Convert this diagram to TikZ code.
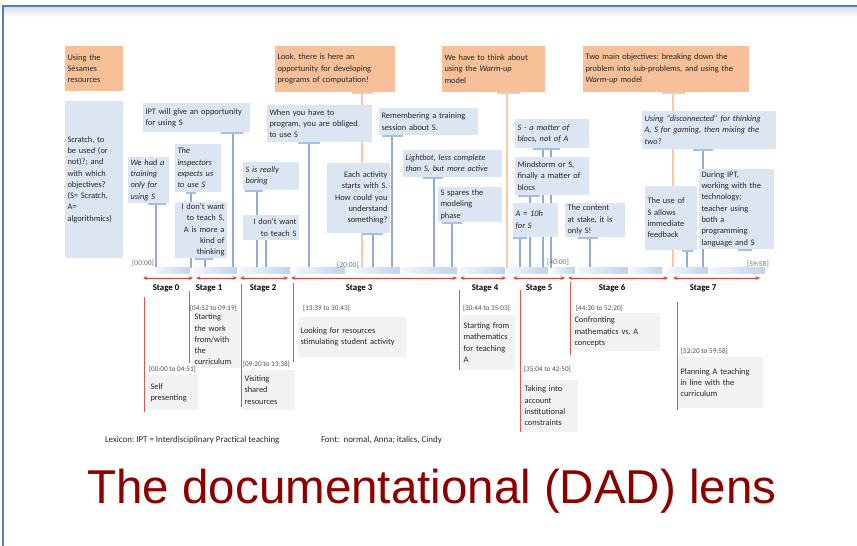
\documentclass[tikz,border=0pt]{standalone}
\usepackage{fontspec}
\setmainfont{Carlito}
\newfontfamily\titlefont{Liberation Sans}
\usetikzlibrary{arrows.meta,backgrounds}
\frenchspacing

\definecolor{frameblue}{RGB}{79,129,189}
\definecolor{calloutfill}{RGB}{220,230,242}
\definecolor{orangefill}{RGB}{248,192,152}
\definecolor{orangeline}{RGB}{250,200,165}
\definecolor{linkblue}{RGB}{145,172,214}
\definecolor{tickblue}{RGB}{165,192,228}
\definecolor{barblue}{RGB}{192,210,237}
\definecolor{stagered}{RGB}{214,58,52}
\definecolor{descgrey}{RGB}{242,242,242}
\definecolor{titlered}{RGB}{140,0,0}

\begin{document}
\begin{tikzpicture}[x=1pt,y=-1pt,
  every node/.style={inner sep=0pt, outer sep=0pt, text=black!85},
  boxtext/.style={anchor=north west, inner xsep=2.5pt, inner ysep=0pt,
    align=left, font=\fontsize{8.4}{11.3}\selectfont},
  callout/.style={boxtext, fill=calloutfill},
  remark/.style={boxtext, fill=orangefill},
  stagedesc/.style={boxtext, fill=descgrey},
  timelab/.style={anchor=west, font=\fontsize{7.2}{8}\selectfont, text=black!70},
  clocklab/.style={font=\fontsize{7.5}{8}\selectfont, text=black!55},
  stagelab/.style={font=\bfseries\fontsize{8.8}{10}\selectfont, text=black},
  legendtext/.style={anchor=west, font=\fontsize{8.9}{10}\selectfont, text=black!85},
  link/.style={draw=linkblue, line width=1.3pt},
  olink/.style={draw=orangeline, line width=1.5pt},
  tickbar/.style={draw=tickblue, line width=2pt},
  stagearrow/.style={draw=stagered, line width=0.9pt,
    {Stealth[length=4.5pt,width=3.6pt]}-{Stealth[length=4.5pt,width=3.6pt]}},
  stageline/.style={draw=stagered!85, line width=0.9pt}]

\useasboundingbox (0,0) rectangle (857,546);

% slide frame
\shade[top color=black!13, bottom color=white] (4,7.2) rectangle (857,17);
\draw[frameblue, line width=2.2pt] (3,546) -- (3,6) -- (857,6);

% timeline band
\foreach \a/\b in {155/190,193/237,240/290,296/345,355/400,402/457,460/505,
                   508/548,552/575,578/628,630/662,668/708,710/765}
  \shade[left color=barblue!20, right color=barblue] (\a,267) rectangle (\b,273);

% clock marks on the timeline
\node[clocklab, anchor=east] (k00) at (154,263) {[00:00]};
\node[clocklab, anchor=west] (k20) at (337,265) {[20:00]};
\node[clocklab, anchor=west] (k40) at (547,262) {[40:00]};
\node[clocklab, anchor=west] (k60) at (747,264) {[59:58]};

% orange remarks
\node[remark, minimum width=58pt, minimum height=45pt, text width=53pt] (o1) at (65,46)
  {Using the\\Sésames\\resources};
\node[remark, minimum width=120pt, minimum height=46pt, text width=115pt] (o2) at (275,46)
  {Look, there is here an\\opportunity for developing\\programs of computation!};
\node[remark, minimum width=103pt, minimum height=46pt, text width=98pt] (o3) at (442,46)
  {We have to think about\\using the \textit{Warm-up}\\model};
\node[remark, minimum width=166pt, minimum height=46pt, text width=161pt] (o4) at (583,46)
  {Two main objectives: breaking down the\\problem into sub-problems, and using the\\\textit{Warm-up} model};

% blue callouts
\node[callout, minimum width=58pt, minimum height=157pt, text width=53pt] (cscratch) at (65,101)
  {Scratch, to\\be used (or\\not)?; and\\with which\\objectives?\\(S= Scratch,\\A=\\algorithmics)};
\node[callout, minimum width=107pt, minimum height=29pt, text width=102pt] (cipt) at (143,103)
  {IPT will give an opportunity\\for using S};
\node[callout, minimum width=41pt, minimum height=46pt, text width=36pt, font=\itshape\fontsize{8.4}{11.3}\selectfont] (ctrain) at (128,157)
  {We had a\\training\\only for\\using S};
\node[callout, minimum width=46pt, minimum height=48pt, text width=41pt, font=\itshape\fontsize{8.4}{11.3}\selectfont] (cinsp) at (175,144)
  {The\\inspectors\\expects us\\to use S};
\node[callout, minimum width=52pt, minimum height=56pt, text width=47pt, align=right] (cdont) at (175,202)
  {I don't want\\to teach S,\\A is more a\\kind of\\thinking};
\node[callout, minimum width=56pt, minimum height=28pt, text width=51pt, font=\itshape\fontsize{8.4}{11.3}\selectfont] (cbore) at (243,162)
  {S is really\\boring};
\node[callout, minimum width=56pt, minimum height=25pt, text width=51pt, align=right] (cdonttwo) at (243,215)
  {I don't want\\to teach S};
\node[callout, minimum width=105pt, minimum height=37pt, text width=100pt] (cprog) at (267,105)
  {When you have to\\program, you are obliged\\to use S};
\node[callout, minimum width=63pt, minimum height=70pt, text width=58pt, align=right] (ceach) at (327,163)
  {Each activity\\starts with S.\\How could you\\understand\\something?};
\node[callout, minimum width=99pt, minimum height=27pt, text width=94pt] (cremem) at (379,108)
  {Remembering a training\\session about S.};
\node[callout, minimum width=99pt, minimum height=27pt, text width=94pt, font=\itshape\fontsize{8.4}{11.3}\selectfont] (clight) at (403,150)
  {Lightbot, less complete\\than S, but more active};
\node[callout, minimum width=64pt, minimum height=35pt, text width=59pt] (cspares) at (438,187)
  {S spares the\\modeling\\phase};
\node[callout, minimum width=74pt, minimum height=29pt, text width=69pt, font=\itshape\fontsize{8.4}{11.3}\selectfont] (cblocs) at (515,119)
  {S - a matter of\\blocs, not of A};
\node[callout, minimum width=74pt, minimum height=38pt, text width=69pt] (cmind) at (515,157)
  {Mindstorm or S,\\finally a matter of\\blocs};
\node[callout, minimum width=45pt, minimum height=34pt, text width=40pt, font=\itshape\fontsize{8.4}{11.3}\selectfont] (ctenh) at (513,203)
  {A = 10h\\for S};
\node[callout, minimum width=60pt, minimum height=34pt, text width=55pt] (ccontent) at (565,203)
  {The content\\at stake, it is\\only S!};
\node[callout, minimum width=134pt, minimum height=38pt, text width=129pt, font=\itshape\fontsize{8.4}{11.3}\selectfont] (cdisc) at (642,111)
  {Using “disconnected” for thinking\\A, S for gaming, then mixing the\\two?};
\node[callout, minimum width=52pt, minimum height=64pt, text width=47pt] (cfeed) at (645,186)
  {The use of\\S allows\\immediate\\feedback};
\node[callout, minimum width=75pt, minimum height=80pt, text width=70pt] (ciptb) at (699,169)
  {During IPT,\\working with the\\technology;\\teacher using\\both a\\programming\\language and S};

% where the connectors meet the timeline
\coordinate (t1) at (233,268);
\coordinate (t2) at (156,268);
\coordinate (t3) at (191,268);
\coordinate (t4) at (205,268);
\coordinate (t5) at (257,268);
\coordinate (t6) at (266,268);
\coordinate (t7) at (309,268);
\coordinate (t8) at (362,268);
\coordinate (t9) at (373,268);
\coordinate (t10) at (392,268);
\coordinate (t11) at (434,268);
\coordinate (t12) at (452,268);
\coordinate (t13) at (507,268);
\coordinate (t14) at (543,268);
\coordinate (t15) at (551,268);
\coordinate (t16) at (530,268);
\coordinate (t17) at (520,268);
\coordinate (t18) at (590,268);
\coordinate (t19) at (673,268);
\coordinate (t20) at (703,268);
\coordinate (t21) at (687,268);
\coordinate (t22) at (745,268);

\begin{pgfonlayer}{background}
  \draw[link] (cipt.south -| t1) -- (t1);
  \draw[link] (ctrain.south -| t2) -- (t2);
  \draw[link] (cinsp.south -| t3) -- (t3);
  \draw[link] (cdont.south -| t4) -- (t4);
  \draw[link] (cbore.south -| t5) -- (t5);
  \draw[link] (cdonttwo.south -| t6) -- (t6);
  \draw[link] (cprog.south -| t7) -- (t7);
  \draw[olink] (o2.south -| t8) -- (t8);
  \draw[link] (ceach.south -| t9) -- (t9);
  \draw[link] (cremem.south -| t10) -- (t10);
  \draw[link] (clight.south -| t11) -- (t11);
  \draw[link] (cspares.south -| t12) -- (t12);
  \draw[olink] (o3.south -| t13) -- (t13);
  \draw[link] (cblocs.south -| t14) -- (t14);
  \draw[link] (cblocs.south -| t15) -- (t15);
  \draw[link] (cmind.south -| t16) -- (t16);
  \draw[link] (ctenh.south -| t17) -- (t17);
  \draw[link] (ccontent.south -| t18) -- (t18);
  \draw[olink] (o4.south -| t19) -- (t19);
  \draw[link] (cdisc.south -| t20) -- (t20);
  \draw[link] (cfeed.south -| t21) -- (t21);
\end{pgfonlayer}

% short bars under the boxes
\draw[tickbar] (cipt.south -| t1) ++(-12,1) -- ++(22,0);
\draw[tickbar] (ctrain.south -| t2) ++(-8,1) -- ++(18,0);
\draw[tickbar] (cinsp.south -| t3) ++(-5,1) -- ++(10,0);
\draw[tickbar] (cdont.south -| t4) ++(-10,1) -- ++(18,0);
\draw[tickbar] (cbore.south -| t5) ++(-12,1) -- ++(18,0);
\draw[tickbar] (cprog.south -| t7) ++(-11,1) -- ++(22,0);
\draw[draw=orangeline, line width=2pt] (o2.south -| t8) ++(-10,1) -- ++(21,0);
\draw[tickbar] (ceach.south -| t9) ++(-11,1) -- ++(21,0);
\draw[tickbar] (cremem.south -| t10) ++(-10,1) -- ++(21,0);
\draw[tickbar] (clight.south -| t11) ++(-11,1) -- ++(20,0);
\draw[tickbar] (cspares.south -| t12) ++(-10,1) -- ++(20,0);
\draw[draw=orangeline, line width=2pt] (o3.south -| t13) ++(-10,1) -- ++(23,0);
\draw[tickbar] (cblocs.south -| t14) ++(-10,1) -- ++(27,0);
\draw[tickbar] (cmind.south -| t16) ++(-12,1) -- ++(22,0);
\draw[tickbar] (ctenh.south -| t17) ++(-7,1) -- ++(14,0);
\draw[tickbar] (ccontent.south -| t18) ++(-12,1) -- ++(20,0);
\draw[draw=orangeline, line width=2pt] (o4.south -| t19) ++(-11,1) -- ++(23,0);
\draw[tickbar] (cdisc.south -| t20) ++(-10,1) -- ++(20,0);
\draw[tickbar] (cfeed.south -| t21) ++(-5,1) -- ++(11,0);
\draw[tickbar] (ciptb.south -| t22) ++(-7,1) -- ++(14,0);

% stages
\foreach \a/\b in {143/193,196/237,240/288,291/457,460/506,513/565,568/668,673/760}
  \draw[stagearrow] (\a,278) -- (\b,278);

\node[stagelab] (s0) at (166,288) {Stage 0};
\node[stagelab] (s1) at (209,288) {Stage 1};
\node[stagelab] (s2) at (263,288) {Stage 2};
\node[stagelab] (s3) at (359,288) {Stage 3};
\node[stagelab] (s4) at (485,288) {Stage 4};
\node[stagelab] (s5) at (539,288) {Stage 5};
\node[stagelab] (s6) at (612,288) {Stage 6};
\node[stagelab] (s7) at (703,288) {Stage 7};

\draw[stageline] (144,297) -- (144,412);
\draw[stageline] (189,291) -- (189,363);
\draw[stageline] (241,284) -- (241,407);
\draw[stageline] (293,283) -- (293,362);
\draw[stageline] (459,290) -- (459,370);
\draw[stageline] (520,290) -- (520,432);
\draw[stageline] (570,282) -- (570,355);
\draw[stageline] (677,302) -- (677,410);

\node[stagedesc, minimum width=50pt, minimum height=35pt, text width=45pt] (d0) at (148,375)
  {Self\\presenting};
\node[stagedesc, minimum width=48pt, minimum height=57pt, text width=43pt] (d1) at (192,311)
  {Starting\\the work\\from/with\\the\\curriculum};
\node[stagedesc, minimum width=53pt, minimum height=40pt, text width=48pt] (d2) at (242,370)
  {Visiting\\shared\\resources};
\node[stagedesc, minimum width=109pt, minimum height=40pt, text width=104pt] (d3) at (298,317)
  {Looking for resources\\stimulating student activity};
\node[stagedesc, minimum width=54pt, minimum height=55pt, text width=49pt] (d4) at (461,315)
  {Starting from\\mathematics\\for teaching\\A};
\node[stagedesc, minimum width=56pt, minimum height=52pt, text width=51pt] (d5) at (522,380)
  {Taking into\\account\\institutional\\constraints};
\node[stagedesc, minimum width=88pt, minimum height=38pt, text width=83pt] (d6) at (572,313)
  {Confronting\\mathematics vs. A\\concepts};
\node[stagedesc, minimum width=85pt, minimum height=51pt, text width=80pt] (d7) at (678,357)
  {Planning A teaching\\in line with the\\curriculum};

\node[timelab] (tl0) at (149,369) {[00:00 to 04:51]};
\node[timelab] (tl1) at (190,308) {[04:52 to 09:19]};
\node[timelab] (tl2) at (243,364) {[09:20 to 13:38]};
\node[timelab] (tl3) at (303,308) {[13:39 to 30:43]};
\node[timelab] (tl4) at (463,308) {[30:44 to 35:03]};
\node[timelab] (tl5) at (524,369) {[35:04 to 42:50]};
\node[timelab] (tl6) at (576,308) {[44:30 to 52:20]};
\node[timelab] (tl7) at (681,351) {[52:20 to 59:58]};

% legend and title
\node[legendtext] (lex) at (105,440) {Lexicon: IPT = Interdisciplinary Practical teaching};
\node[legendtext] (fnt) at (321,440) {Font:\ \ normal, Anna; italics, Cindy};

\node[anchor=base, font=\titlefont\fontsize{47.5}{52}\selectfont, text=titlered] (title) at (432,503)
  {The documentational (DAD) lens};
\end{tikzpicture}
\end{document}
